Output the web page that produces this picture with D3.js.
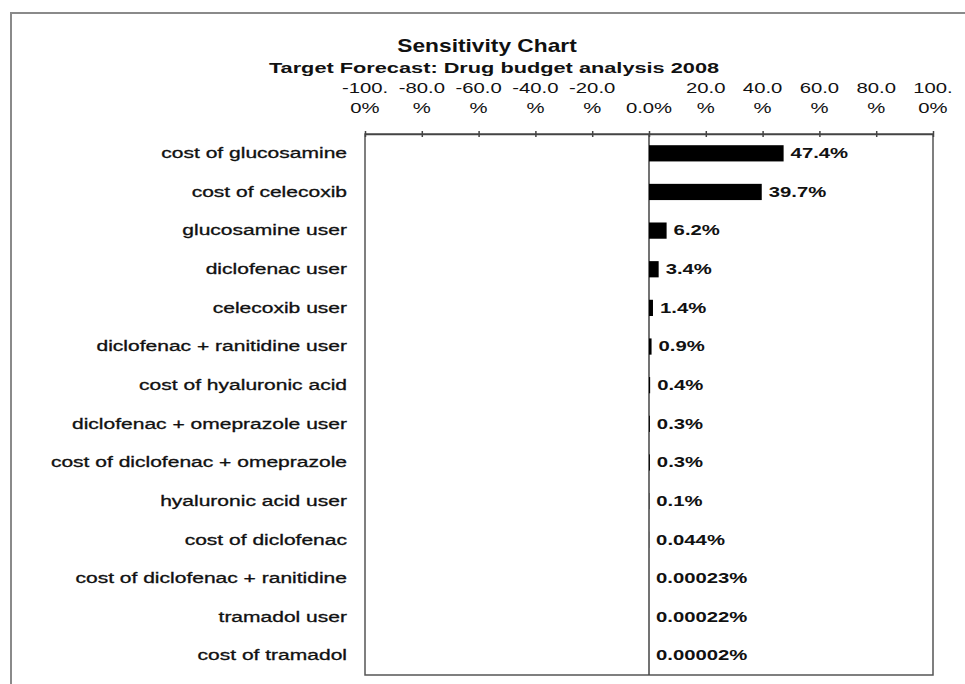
<!DOCTYPE html>
<html>
<head>
<meta charset="utf-8">
<script src="https://cdn.jsdelivr.net/npm/d3@7"></script>
<style>
  body { margin: 0; background: #fff; }
  svg { display: block; font-family: "Liberation Sans", Arial, sans-serif; }
</style>
</head>
<body>
<svg id="chart" width="965" height="684"></svg>
<script>
const factors = [
  'cost of glucosamine',
  'cost of celecoxib',
  'glucosamine user',
  'diclofenac user',
  'celecoxib user',
  'diclofenac + ranitidine user',
  'cost of hyaluronic acid',
  'diclofenac + omeprazole user',
  'cost of diclofenac + omeprazole',
  'hyaluronic acid user',
  'cost of diclofenac',
  'cost of diclofenac + ranitidine',
  'tramadol user',
  'cost of tramadol'
];
const values = [47.4, 39.7, 6.2, 3.4, 1.4, 0.9, 0.4, 0.3, 0.3, 0.1, 0.044, 0.00023, 0.00022, 0.00002];

const tickValues = [-100, -80, -60, -40, -20, 0, 20, 40, 60, 80, 100];
const tickTop = ['-100.', '-80.0', '-60.0', '-40.0', '-20.0', '', '20.0', '40.0', '60.0', '80.0', '100.'];
const tickBottom = ['0%', '%', '%', '%', '%', '0.0%', '%', '%', '%', '%', '0%'];

const title = 'Sensitivity Chart';
const subtitle = 'Target Forecast: Drug budget analysis 2008';

const svg = d3.select('#chart');
const SX = 1.45; // the scanned text is stretched sideways

const x = d3.scaleLinear().domain([-100, 100]).range([365, 933]);
const y = d3.scaleBand()
  .domain(factors)
  .range([134, 675])
  .paddingInner(0.58)
  .paddingOuter(0.29);

function stretchText(px, py, txt, size, weight, anchor, sx = SX) {
  return svg.append('text')
    .attr('transform', `translate(${px},${py}) scale(${sx},1)`)
    .attr('text-anchor', anchor)
    .attr('dominant-baseline', 'central')
    .attr('font-size', size)
    .attr('font-weight', weight)
    .attr('fill', '#111')
    .text(txt);
}

// outer frame (runs off the right / bottom edge)
svg.append('rect')
  .attr('x', 11).attr('y', 13)
  .attr('width', 1000).attr('height', 700)
  .attr('fill', 'none')
  .attr('stroke', '#8a8a8a')
  .attr('stroke-width', 2);

// titles
stretchText(487, 46, title, 17.5, 'bold', 'middle', 1.3);
stretchText(494, 68, subtitle, 15, 'bold', 'middle');

// plot box
svg.append('rect')
  .attr('x', x(-100)).attr('y', 134)
  .attr('width', x(100) - x(-100)).attr('height', 675 - 134)
  .attr('fill', 'none')
  .attr('stroke', '#555')
  .attr('stroke-width', 1.5);

// top axis
const axis = svg.append('g')
  .attr('transform', 'translate(0,134)')
  .call(d3.axisTop(x).tickValues(tickValues).tickSizeOuter(0).tickFormat(''));
axis.select('.domain').attr('stroke', '#444').attr('stroke-width', 1.5);
axis.selectAll('.tick line')
  .attr('y1', -3).attr('y2', 3)
  .attr('stroke', '#444').attr('stroke-width', 1.5);

tickValues.forEach((t, i) => {
  stretchText(x(t), 88, tickTop[i], 14, 'normal', 'middle');
  stretchText(x(t), 108, tickBottom[i], 14, 'normal', 'middle');
});

// zero line
svg.append('line')
  .attr('x1', x(0)).attr('x2', x(0))
  .attr('y1', 134).attr('y2', 675)
  .attr('stroke', '#444')
  .attr('stroke-width', 1.5);

// bars
svg.append('g')
  .selectAll('rect')
  .data(values)
  .join('rect')
  .attr('x', x(0))
  .attr('y', (d, i) => y(factors[i]))
  .attr('width', d => x(d) - x(0))
  .attr('height', y.bandwidth())
  .attr('fill', '#000');

// labels
factors.forEach((f, i) => {
  const cy = y(f) + y.bandwidth() / 2;
  stretchText(347, cy, f, 14.5, 'normal', 'end')
    .attr('stroke', '#111').attr('stroke-width', 0.3);
  const lbl = (values[i] >= 0.1 ? values[i].toFixed(1) : String(values[i])) + '%';
  stretchText(x(values[i]) + 7, cy, lbl, 14, 'bold', 'start');
});
</script>
</body>
</html>
